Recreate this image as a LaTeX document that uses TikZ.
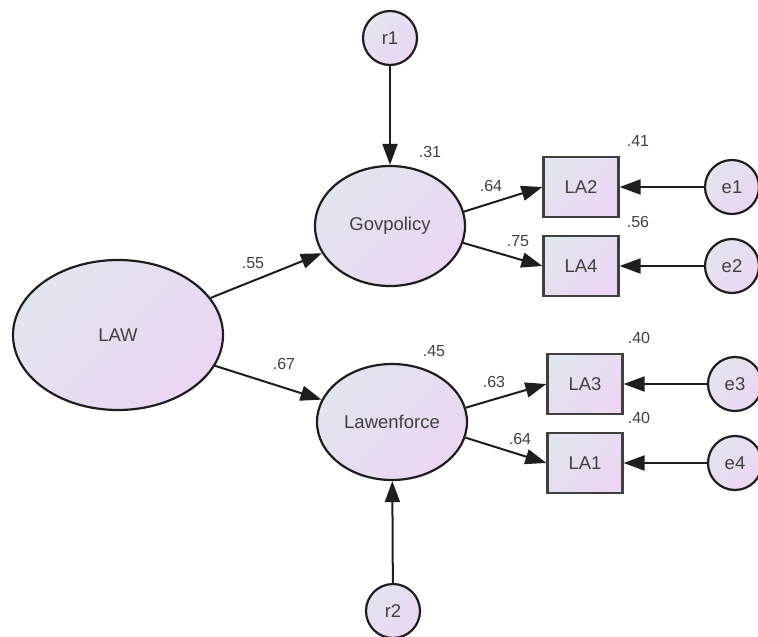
\documentclass[tikz,border=0pt]{standalone}
\usepackage{fontspec}
\setmainfont{Liberation Sans}
\usetikzlibrary{arrows.meta,positioning,shapes.geometric}

\definecolor{fillA}{HTML}{E1E5EF}
\definecolor{fillB}{HTML}{ECD6F3}
\definecolor{ink}{HTML}{1E1E1E}

\begin{document}
\begin{tikzpicture}[x=1pt,y=-1pt,>={Triangle[length=21pt,width=15pt]},
  amosfill/.style={top color=fillA,bottom color=fillB,shading angle=45},
  latent/.style={ellipse,draw=ink,line width=2.2pt,amosfill,inner sep=0pt,
    text=ink!85,font=\fontsize{18.5}{21}\selectfont},
  resid/.style={circle,draw=ink,line width=2.2pt,amosfill,inner sep=0pt,
    minimum size=54pt,text=ink!85,font=\fontsize{18.5}{21}\selectfont},
  obs/.style={rectangle,draw=ink!85,line width=2.2pt,amosfill,inner sep=0pt,
    minimum width=75pt,minimum height=60pt,text=ink!85,font=\fontsize{18.5}{21}\selectfont},
  coef/.style={text=ink!85,font=\fontsize{16}{18}\selectfont,inner sep=0pt}]
  \useasboundingbox (0,0) rectangle (758,637);

  \node[latent,minimum width=210pt,minimum height=150pt] (law)    at (118,335) {LAW};
  \node[latent,minimum width=150pt,minimum height=120pt] (gov)    at (390,226) {Govpolicy};
  \node[latent,minimum width=150pt,minimum height=116pt] (lawenf) at (392,422) {Lawenforce};
  \node[resid] (r1) at (390,38)  {r1};
  \node[resid] (r2) at (393,611) {r2};
  \node[obs]   (la2) at (581,187) {LA2};
  \node[obs]   (la4) at (581,266) {LA4};
  \node[obs]   (la3) at (585,384) {LA3};
  \node[obs]   (la1) at (585,463) {LA1};
  \node[resid] (e1) at (732,187) {e1};
  \node[resid] (e2) at (732,266) {e2};
  \node[resid] (e3) at (735,384) {e3};
  \node[resid] (e4) at (735,463) {e4};

  \path[->,ink,line width=2pt]
            (law) edge (gov)
            (law) edge (lawenf)
            (r1) edge (gov)
            (r2) edge (lawenf)
            (gov.11) edge (la2.west)
            (gov.-13) edge (la4.west)
            (lawenf.11) edge (la3.west)
            (lawenf.-12) edge (la1.west)
            (e1) edge (la2)
            (e2) edge (la4)
            (e3) edge (la3)
            (e4) edge (la1);

  % coefficients
  \node[coef] (c55) at (253,263) {.55};
  \node[coef] (c67) at (284,364) {.67};
  \node[coef] (c31) at (430,152) {.31};
  \node[coef] (c45) at (434,351) {.45};
  \node[coef] (c64a) at (491,186) {.64};
  \node[coef] (c75) at (518,241) {.75};
  \node[coef] (c63) at (494,382) {.63};
  \node[coef] (c64b) at (520,439) {.64};
  \node[coef] (c41) at (638,141) {.41};
  \node[coef] (c56) at (638,222) {.56};
  \node[coef] (c40a) at (639,338) {.40};
  \node[coef] (c40b) at (639,418) {.40};
\end{tikzpicture}
\end{document}
